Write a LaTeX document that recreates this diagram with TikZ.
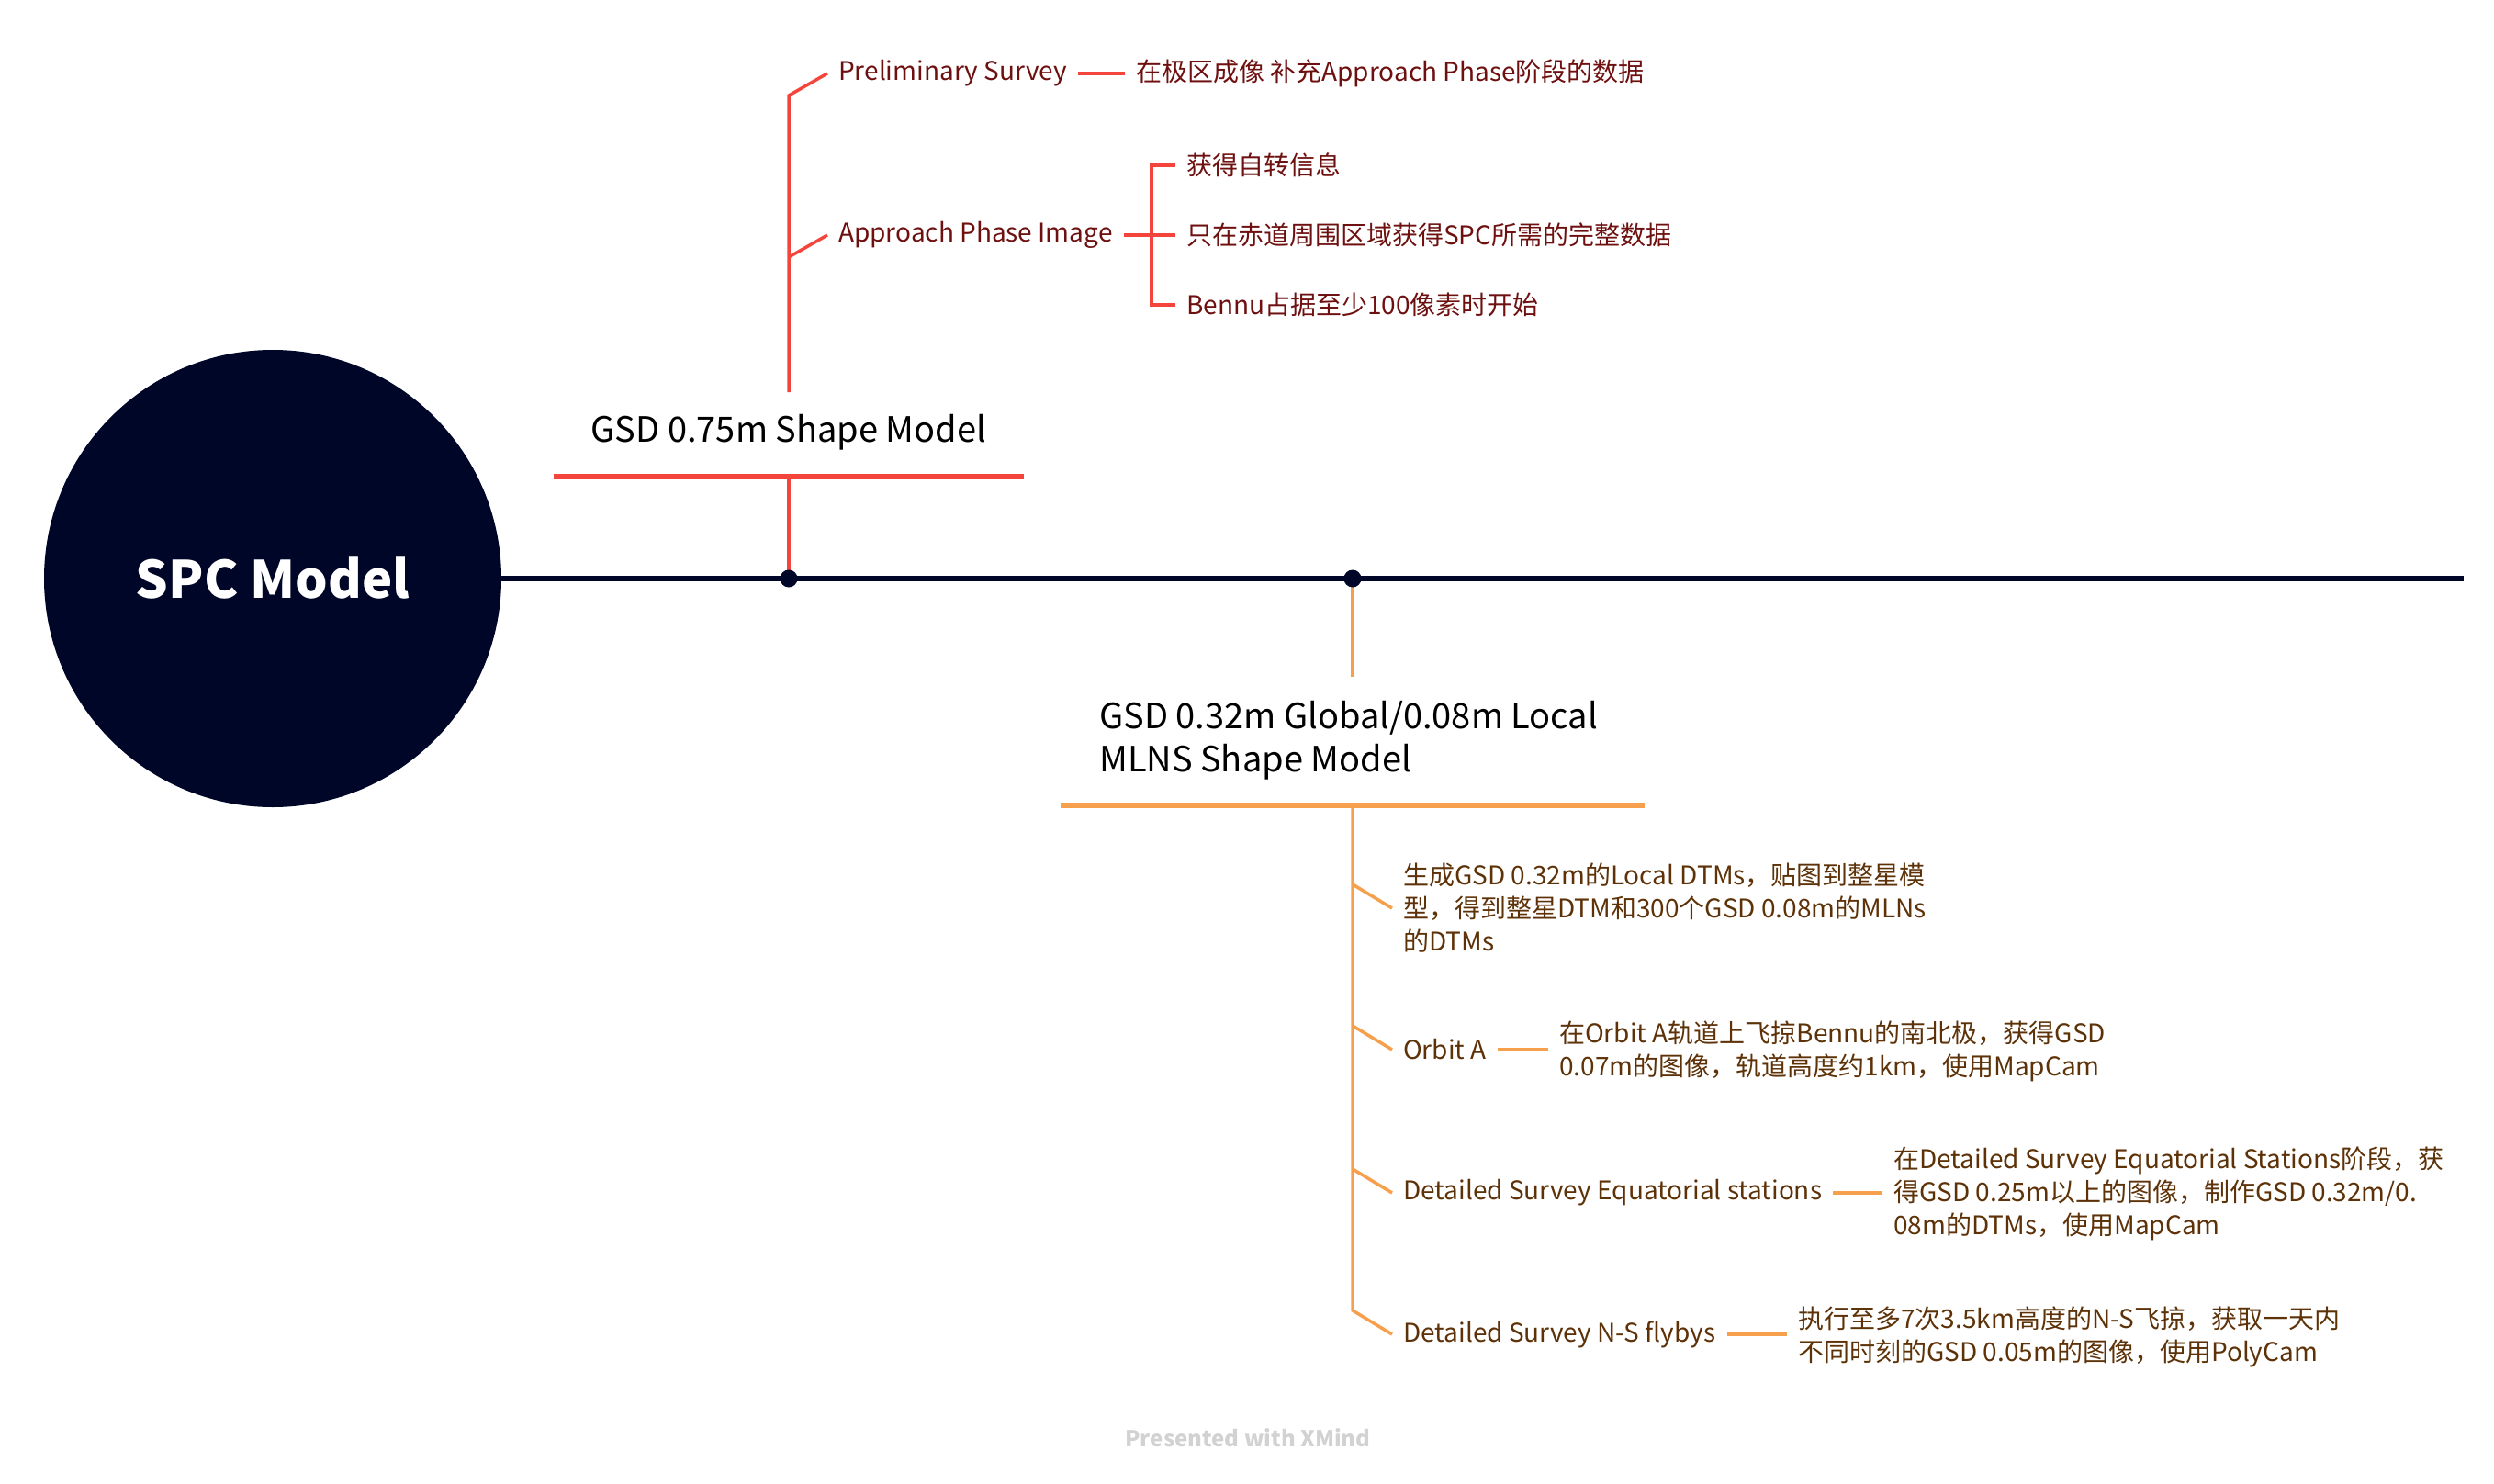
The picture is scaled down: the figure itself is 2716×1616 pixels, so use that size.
\documentclass[tikz,border=0pt]{standalone}
\usepackage{fontspec}
\setmainfont{Noto Sans CJK SC}

\definecolor{azul}{HTML}{000628}
\definecolor{rojo}{HTML}{F4453D}
\definecolor{rojotexto}{HTML}{6E1010}
\definecolor{naranja}{HTML}{F6A04D}
\definecolor{naranjatexto}{HTML}{5E3208}
\definecolor{gris}{HTML}{D2D2D2}

\tikzset{
  hoja/.style={anchor=west, inner xsep=12pt, inner ysep=0pt, align=left,
    font=\fontsize{28}{36}\selectfont},
  hojaroja/.style={hoja, text=rojotexto},
  hojanaranja/.style={hoja, text=naranjatexto},
  titulo/.style={inner sep=0pt, align=left, text=black,
    font=\fontsize{38}{47}\selectfont},
  punto/.style={circle, fill=azul, minimum size=19pt, inner sep=0pt},
}

\begin{document}
\begin{tikzpicture}[x=1pt, y=-1pt]
    \useasboundingbox (0,0) rectangle (2716,1616);

    % Centro
    \node[circle, fill=azul, minimum size=498pt, inner sep=0pt, text=white,
      font=\fontsize{56}{60}\selectfont\bfseries] (spc) at (297,630) {SPC Model};
    \coordinate (fin) at (2683,630);
    \coordinate (p1) at (859,630);
    \coordinate (p2) at (1473,630);
    \draw[azul, line width=6pt] (spc.east) -- (fin);

    % Rama roja
    \node[titulo] (gsd1) at (859,471) {GSD 0.75m Shape Model};
    \coordinate (s1a) at (603,519);
    \coordinate (s1b) at (1115,519);
    \draw[rojo, line width=5.7pt] (s1a) -- (s1b);
    \draw[rojo, line width=4.5pt] (p1) -- (p1 |- s1a);
    \coordinate (r1) at (859,427);
    \coordinate (r0) at (859,104);
    \coordinate (ra) at (859,280);

    \node[hojaroja] (prelim) at (901,80) {Preliminary Survey};
    \node[hojaroja] (prelimtxt) at (1225,80) {在极区成像 补充Approach Phase阶段的数据};
    \node[hojaroja] (approach) at (901,256) {Approach Phase Image};
    \coordinate (aj) at (1254,256);
    \node[hojaroja] (giro) at (1280,180) {获得自转信息};
    \node[hojaroja] (ecuador) at (1280,256) {只在赤道周围区域获得SPC所需的完整数据};
    \node[hojaroja] (bennu) at (1280,332) {Bennu占据至少100像素时开始};

    \draw[rojo, line width=3.5pt] (r1) -- (r0) -- (prelim.west);
    \draw[rojo, line width=3.5pt] (ra) -- (approach.west);
    \draw[rojo, line width=3.5pt] (prelim.east) -- (prelim.east -| prelimtxt.west);
    \draw[rojo, line width=3.5pt] (approach.east) -- (approach.east -| ecuador.west);
    \draw[rojo, line width=3.5pt] (giro.west) -| (aj) |- (bennu.west);

    % Rama naranja
    \node[titulo, anchor=west] (gsd2) at (1197,806) {GSD 0.32m Global/0.08m Local\\MLNS Shape Model};
    \coordinate (s2a) at (1155,877);
    \coordinate (s2b) at (1791,877);
    \draw[naranja, line width=6.5pt] (s2a) -- (s2b);
    \draw[naranja, line width=4.5pt] (p2) -- (1473,737);

    \node[hojanaranja] (dtm) at (1516,989) {生成GSD 0.32m的Local DTMs，贴图到整星模\\型，得到整星DTM和300个GSD 0.08m的MLNs\\的DTMs};
    \node[hojanaranja] (orbita) at (1516,1143) {Orbit A};
    \node[hojanaranja] (orbitatxt) at (1686,1145) {在Orbit A轨道上飞掠Bennu的南北极，获得GSD\\0.07m的图像，轨道高度约1km，使用MapCam};
    \node[hojanaranja] (ecuat) at (1516,1299) {Detailed Survey Equatorial stations};
    \node[hojanaranja] (ecuattxt) at (2050,1300) {在Detailed Survey Equatorial Stations阶段，获\\得GSD 0.25m以上的图像，制作GSD 0.32m/0.\\08m的DTMs，使用MapCam};
    \node[hojanaranja] (ns) at (1516,1453) {Detailed Survey N-S flybys};
    \node[hojanaranja] (nstxt) at (1946,1456) {执行至多7次3.5km高度的N-S飞掠，获取一天内\\不同时刻的GSD 0.05m的图像，使用PolyCam};

    \coordinate (o1) at (1473,963);
    \coordinate (o2) at (1473,1117);
    \coordinate (o3) at (1473,1273);
    \coordinate (o4) at (1473,1427);
    \draw[naranja, line width=3.5pt] (1473,877) -- (o4) -- (ns.west);
    \draw[naranja, line width=3.5pt] (o1) -- (dtm.west);
    \draw[naranja, line width=3.5pt] (o2) -- (orbita.west);
    \draw[naranja, line width=3.5pt] (o3) -- (ecuat.west);
    \draw[naranja, line width=3.5pt] (orbita.east) -- (orbita.east -| orbitatxt.west);
    \draw[naranja, line width=3.5pt] (ecuat.east) -- (ecuat.east -| ecuattxt.west);
    \draw[naranja, line width=3.5pt] (ns.east) -- (ns.east -| nstxt.west);

    % Puntos
    \node[punto] (d1) at (p1) {};
    \node[punto] (d2) at (p2) {};

    % Pie
    \node[text=gris, font=\fontsize{24}{28}\selectfont\bfseries] (pie) at (1359,1566) {Presented with XMind};
\end{tikzpicture}
\end{document}
